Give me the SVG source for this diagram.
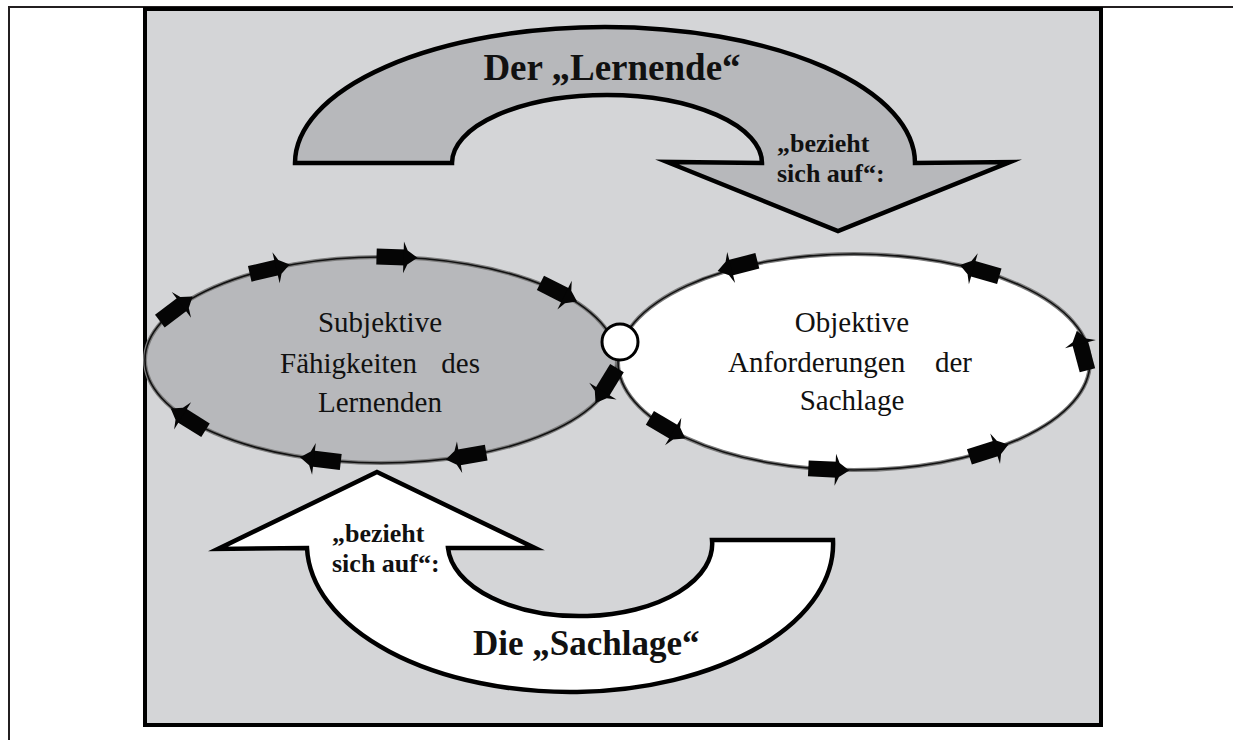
<svg xmlns="http://www.w3.org/2000/svg" xmlns:xlink="http://www.w3.org/1999/xlink" width="1233" height="740" viewBox="0 0 1233 740">
  <style>
    .frame { fill: none; stroke: #231f20; stroke-width: 2; }
    .panel { fill: #d4d5d7; stroke: #000; stroke-width: 4; }
    .bigarrow { stroke: #000; stroke-width: 4.5; stroke-linejoin: miter; stroke-miterlimit: 10; }
    .title { font-family: "Liberation Serif", "Times New Roman", serif; font-weight: bold; fill: #111; }
    .label { font-family: "Liberation Serif", "Times New Roman", serif; font-weight: bold; font-size: 26px; fill: #111; }
    .node-text { font-family: "Liberation Serif", "Times New Roman", serif; font-size: 29px; fill: #111; }
    .ring-halo { fill: none; stroke: #7a7a7a; stroke-width: 4; }
    .ring-line { fill: none; stroke: #111; stroke-width: 1.6; }
    .tick { fill: #050505; }
  </style>
  <defs>
    <!-- small block arrow used for the circulation marks on both ellipses -->
    <g id="tick" class="tick">
      <rect x="-21" y="-8" width="29" height="16"/>
      <polygon points="6,-16 10,-7 20,0 10,7 6,16"/>
    </g>
  </defs>

  <!-- table cell lines -->
  <g id="frame">
    <line class="frame" x1="9" y1="7" x2="1233" y2="7"/>
    <line class="frame" x1="9" y1="6" x2="9" y2="740"/>
  </g>

  <!-- grey panel -->
  <g id="panel">
    <rect class="panel" x="145" y="9" width="956" height="716"/>
  </g>

  <!-- upper curved arrow: Der „Lernende“ -->
  <g id="node-lernende">
    <path class="bigarrow" fill="#b7b8bb"
          d="M 295,163 A 310,136 0 0 1 915,163 L 1010,162 L 838,231 L 667,162 L 762,163 A 155,68 0 0 0 452,163 Z"/>
    <text class="title" x="612" y="80" font-size="37" text-anchor="middle">Der „Lernende“</text>
    <text class="label" x="777" y="152">„bezieht</text>
    <text class="label" x="777" y="182">sich auf“:</text>
  </g>

  <!-- lower curved arrow: Die „Sachlage“ -->
  <g id="node-sachlage">
    <path class="bigarrow" fill="#ffffff"
          d="M 377,472 L 535,548 L 448,548 A 132,72 0 0 0 712,540 L 833,540 A 263,148 0 0 1 307,548 L 218,549 Z"/>
    <text class="title" x="473" y="655" font-size="35">Die „Sachlage“</text>
    <text class="label" x="332" y="542">„bezieht</text>
    <text class="label" x="332" y="572">sich auf“:</text>
  </g>

  <!-- left ellipse -->
  <g id="node-subjektiv">
    <ellipse cx="381" cy="360" rx="236" ry="103" fill="#b7b8bb" stroke="none"/>
    <ellipse class="ring-halo" cx="381" cy="360" rx="236" ry="103"/>
    <ellipse class="ring-line" cx="381" cy="360" rx="236" ry="103"/>
    <text class="node-text" x="380" y="332" text-anchor="middle">Subjektive</text>
    <text class="node-text" y="373"><tspan x="280">Fähigkeiten</tspan><tspan x="480" text-anchor="end">des</tspan></text>
    <text class="node-text" x="380" y="412" text-anchor="middle">Lernenden</text>
  </g>

  <!-- right ellipse -->
  <g id="node-objektiv">
    <ellipse cx="854" cy="362" rx="236" ry="108" fill="#ffffff" stroke="none"/>
    <ellipse class="ring-halo" cx="854" cy="362" rx="236" ry="108"/>
    <ellipse class="ring-line" cx="854" cy="362" rx="236" ry="108"/>
    <text class="node-text" x="852" y="332" text-anchor="middle">Objektive</text>
    <text class="node-text" y="372"><tspan x="728">Anforderungen</tspan><tspan x="972" text-anchor="end">der</tspan></text>
    <text class="node-text" x="852" y="410" text-anchor="middle">Sachlage</text>
  </g>

  <!-- circulation marks along the ellipse outlines -->
  <g id="connectors">
    <!-- left ellipse: clockwise -->
    <use xlink:href="#tick" transform="translate(176.6,308.5) rotate(-37.1)"/>
    <use xlink:href="#tick" transform="translate(270.2,269.1) rotate(-13.1)"/>
    <use xlink:href="#tick" transform="translate(397.5,257.2) rotate(1.7)"/>
    <use xlink:href="#tick" transform="translate(559.2,292.4) rotate(26.7)"/>
    <use xlink:href="#tick" transform="translate(606,386) rotate(121.5)"/>
    <use xlink:href="#tick" transform="translate(465.5,456.2) rotate(170.5)"/>
    <use xlink:href="#tick" transform="translate(319.9,459.5) rotate(186.7)"/>
    <use xlink:href="#tick" transform="translate(187.7,419.1) rotate(212)"/>
    <!-- right ellipse: counter-clockwise -->
    <use xlink:href="#tick" transform="translate(737,266) rotate(165.8)"/>
    <use xlink:href="#tick" transform="translate(979.1,270.4) rotate(196)"/>
    <use xlink:href="#tick" transform="translate(1082,350) rotate(255)"/>
    <use xlink:href="#tick" transform="translate(989.4,450.5) rotate(-17.8)"/>
    <use xlink:href="#tick" transform="translate(829.3,469.4) rotate(2.8)"/>
    <use xlink:href="#tick" transform="translate(668,428.5) rotate(30.4)"/>
  </g>

  <!-- junction point between both ellipses -->
  <g id="junction">
    <circle cx="620" cy="342" r="18" fill="#ffffff" stroke="#000" stroke-width="3"/>
  </g>
</svg>
